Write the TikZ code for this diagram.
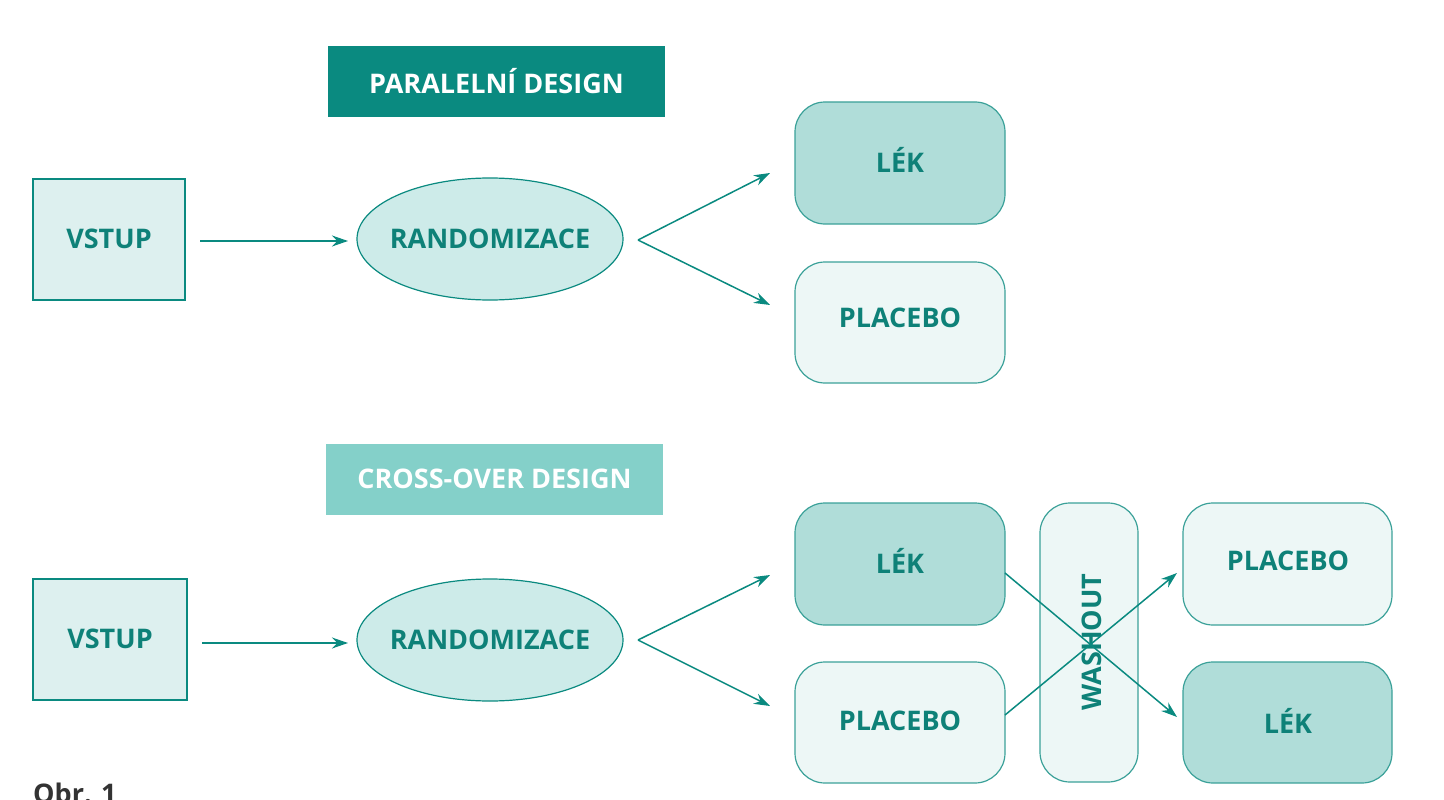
\documentclass[tikz,border=0pt]{standalone}
\usepackage{fontspec}
\setmainfont{Open Sans}
\usetikzlibrary{shapes.geometric,arrows.meta}
\definecolor{teal1}{HTML}{0A8A80}
\definecolor{tealtxt}{HTML}{0E8178}
\definecolor{lightbg}{HTML}{DDF0EF}
\definecolor{ellbg}{HTML}{CDEBE9}
\definecolor{lekbg}{HTML}{B0DDD9}
\definecolor{plbg}{HTML}{EDF7F6}
\definecolor{title2}{HTML}{84D0C9}
\tikzset{
  box/.style={draw=teal1,line width=1.6pt,fill=lightbg},
  rbox/.style={draw=teal1!80,line width=1.2pt,rounded corners=30pt},
  lbl/.style={text=tealtxt,font=\bfseries\fontsize{27}{30}\selectfont},
  ell/.style={draw=teal1,line width=1.2pt,fill=ellbg},
  arr/.style={draw=teal1,line width=1.5pt,-{Stealth[length=16pt,width=11pt]}},
}
\begin{document}
\begin{tikzpicture}[x=1pt,y=-1pt]
\useasboundingbox (0,0) rectangle (1444,800);
% titles
\fill[teal1] (328,46) rectangle (665,117);
\node[text=white,font=\bfseries\fontsize{27}{30}\selectfont] (t1) at (496.5,81) {PARALELNÍ DESIGN};
\fill[title2] (326,444) rectangle (663,515);
\node[text=white,font=\bfseries\fontsize{27}{30}\selectfont] (t2) at (494.5,479) {CROSS-OVER DESIGN};
% top row
\draw[box] (33,179) rectangle (185,300);
\node[lbl] (v1) at (109,239) {VSTUP};
\draw[ell] (490,239) ellipse [x radius=133pt, y radius=61pt];
\node[lbl] (e1) at (490,239) {RANDOMIZACE};
\draw[rbox,fill=lekbg] (795,102) rectangle (1005,224);
\node[lbl] (l1) at (900,160) {LÉK};
\draw[rbox,fill=plbg] (795,262) rectangle (1005,383);
\node[lbl] (p1) at (900,318) {PLACEBO};
\coordinate (a1s) at (200,241); \coordinate (a1e) at (348,241);
\draw[arr] (a1s) -- (a1e);
\coordinate (b1) at (638,240); \coordinate (b1u) at (770,173); \coordinate (b1d) at (770,305);
\draw[arr] (b1) -- (b1u);
\draw[arr] (b1) -- (b1d);
% bottom
\draw[box] (33,579) rectangle (187,700);
\node[lbl] (v2) at (110,639) {VSTUP};
\draw[ell] (490,640) ellipse [x radius=133pt, y radius=61pt];
\node[lbl] (e2) at (490,640) {RANDOMIZACE};
\coordinate (a2s) at (202,643); \coordinate (a2e) at (348,643);
\draw[arr] (a2s) -- (a2e);
\coordinate (b2) at (638,640); \coordinate (b2u) at (770,575); \coordinate (b2d) at (770,706);
\draw[arr] (b2) -- (b2u);
\draw[arr] (b2) -- (b2d);
\draw[rbox,fill=lekbg] (795,503) rectangle (1005,625);
\node[lbl] (l2) at (900,561) {LÉK};
\draw[rbox,fill=plbg] (795,662) rectangle (1005,783);
\node[lbl] (p2) at (900,721) {PLACEBO};
\draw[rbox,fill=plbg] (1040,503) rectangle (1138,782);
\node[lbl,rotate=90] (w) at (1092,642) {WASHOUT};
\draw[rbox,fill=plbg] (1183,503) rectangle (1392,625);
\node[lbl] (p3) at (1288,561) {PLACEBO};
\draw[rbox,fill=lekbg] (1183,662) rectangle (1392,783);
\node[lbl] (l3) at (1288,721) {LÉK};
\coordinate (c1) at (1005,573); \coordinate (c1e) at (1177,717);
\coordinate (c2) at (1005,715); \coordinate (c2e) at (1177,573);
\draw[arr] (c1) -- (c1e);
\draw[arr] (c2) -- (c2e);
\node[anchor=north west,inner sep=0pt,text=black!80,font=\fontsize{27}{30}\selectfont\bfseries] (obr) at (33,783) {Obr. 1};
\end{tikzpicture}
\end{document}
